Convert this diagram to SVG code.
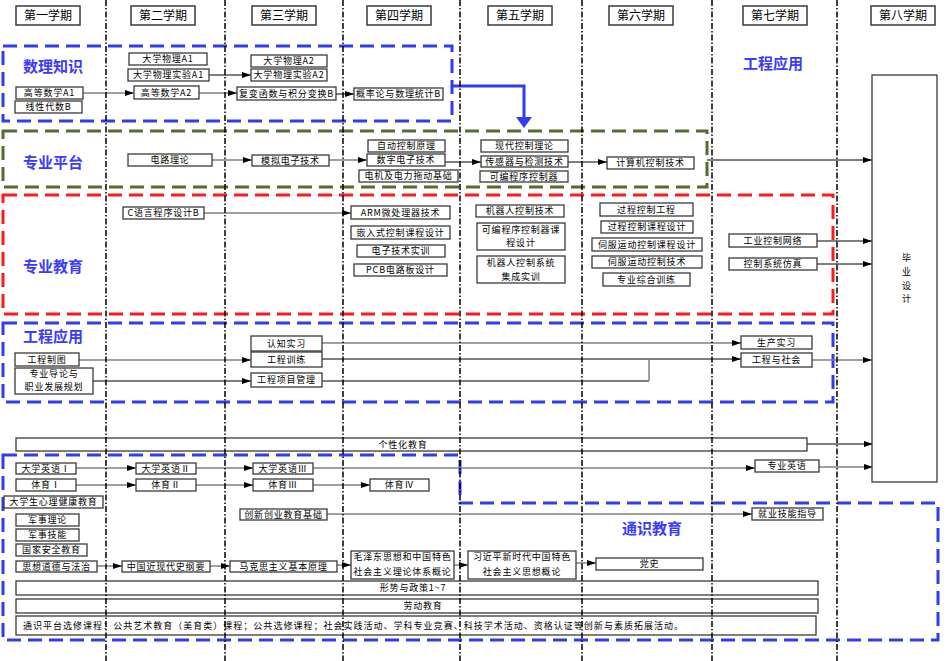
<svg xmlns="http://www.w3.org/2000/svg" width="952" height="661" viewBox="0 0 952 661">
<style>
text{font-family:"Noto Sans CJK SC","Liberation Sans",sans-serif;fill:#000}
.b{fill:#fff;stroke:#3a3a3a;stroke-width:1.3}
.h{fill:#fff;stroke:#3a3a3a;stroke-width:1.5}
.t{font-size:9px;letter-spacing:0.8px;text-anchor:middle}
.ht{font-size:12px;text-anchor:middle}
.lab{font-size:15px;font-weight:bold;fill:#3a3aff}
.reg{fill:none;stroke-width:3;stroke-dasharray:14 7}
.g{fill:none;stroke:#808080;stroke-width:1.5}
.k{fill:none;stroke:#000;stroke-width:1}
.a{marker-end:url(#ar)}
.grid{stroke:#000;stroke-width:1.5;stroke-dasharray:6 2 1.5 2}
</style>
<defs>
<marker id="ar" markerUnits="userSpaceOnUse" markerWidth="9" markerHeight="6" refX="9" refY="3" orient="auto">
<path d="M0,0 L9,3 L0,6 z" fill="#000"/>
</marker>
</defs>
<rect width="952" height="661" fill="#fff"/>

<g id="regions">
<rect class="reg" x="3" y="46" width="449" height="75" stroke="#2f3cf0"/>
<rect class="reg" x="3" y="131" width="704" height="56" stroke="#566b2f"/>
<rect class="reg" x="3" y="195" width="830" height="119" stroke="#ff1a1a"/>
<rect class="reg" x="3" y="323" width="830" height="79" stroke="#2f3cf0"/>
<path class="reg" d="M3,455 H460 V503 H938 V640 H3 Z" stroke="#2f3cf0"/>
</g>

<g id="labels">
<text class="lab" x="23" y="72">数理知识</text>
<text class="lab" x="23" y="168">专业平台</text>
<text class="lab" x="23" y="272">专业教育</text>
<text class="lab" x="23" y="342">工程应用</text>
<text class="lab" x="743" y="69">工程应用</text>
<text class="lab" x="622" y="534">通识教育</text>
</g>

<g id="headers">
<g id="h1"><rect class="h" x="16" y="6" width="64" height="19"/><text class="ht" x="48" y="20">第一学期</text></g>
<g id="h2"><rect class="h" x="131" y="6" width="64" height="19"/><text class="ht" x="163" y="20">第二学期</text></g>
<g id="h3"><rect class="h" x="252" y="6" width="64" height="19"/><text class="ht" x="284" y="20">第三学期</text></g>
<g id="h4"><rect class="h" x="367" y="6" width="64" height="19"/><text class="ht" x="399" y="20">第四学期</text></g>
<g id="h5"><rect class="h" x="488" y="6" width="64" height="19"/><text class="ht" x="520" y="20">第五学期</text></g>
<g id="h6"><rect class="h" x="609" y="6" width="64" height="19"/><text class="ht" x="641" y="20">第六学期</text></g>
<g id="h7"><rect class="h" x="743" y="6" width="64" height="19"/><text class="ht" x="775" y="20">第七学期</text></g>
<g id="h8"><rect class="h" x="871" y="6" width="64" height="19"/><text class="ht" x="903" y="20">第八学期</text></g>
</g>

<g id="connectors">
<path class="g a" d="M83,93 H134"/>
<path class="k a" d="M209,75 H251"/>
<path class="g a" d="M199,93 H237"/>
<path class="k a" d="M336,94 H354"/>
<path d="M452,86 H524 V118" fill="none" stroke="#2f3cf0" stroke-width="3"/>
<polygon points="516,117 532,117 524,128" fill="#2f3cf0"/>
<path class="g a" d="M212,160 H252"/>
<path class="g a" d="M329,160 H367"/>
<path class="k a" d="M445,162 H481"/>
<path class="k a" d="M568,162 H607"/>
<path class="k a" d="M707,160 H872"/>
<path class="g a" d="M204,213 H351"/>
<path class="k a" d="M817,241 H872"/>
<path class="k a" d="M817,264 H872"/>
<path class="g a" d="M79,360 H251"/>
<path class="k a" d="M93,381 H251"/>
<path class="g a" d="M322,343 H741"/>
<path class="k a" d="M322,359 H741"/>
<path class="k" d="M322,381 H649"/>
<path class="g" d="M649,381 V359"/>
<path class="g a" d="M812,360 H872"/>
<path class="k a" d="M807,444 H873"/>
<path class="g a" d="M76,468 H136"/>
<path class="g a" d="M196,468 H253"/>
<path class="g a" d="M313,468 H755"/>
<path class="g a" d="M819,467 H873"/>
<path class="g a" d="M76,485 H136"/>
<path class="g a" d="M196,485 H253"/>
<path class="g a" d="M313,485 H370"/>
<path class="g a" d="M327,514 H752"/>
<path class="g a" d="M97,566 H122"/>
<path class="g a" d="M210,566 H230"/>
<path class="g a" d="M337,565 H351"/>
<path class="g a" d="M454,565 H468"/>
<path class="g a" d="M576,563 H596"/>
</g>

<g id="nodes">
<g id="wl1"><rect class="b" x="129" y="53" width="78" height="12"/><text class="t" x="168" y="62.3">大学物理A1</text></g>
<g id="wlsy1"><rect class="b" x="128" y="69" width="81" height="12"/><text class="t" x="168.5" y="78.3">大学物理实验A1</text></g>
<g id="gs1"><rect class="b" x="16" y="87" width="67" height="12"/><text class="t" x="49.5" y="96.3">高等数学A1</text></g>
<g id="xx"><rect class="b" x="15" y="101" width="67" height="12"/><text class="t" x="48.5" y="110.3">线性代数B</text></g>
<g id="gs2"><rect class="b" x="134" y="86" width="65" height="13"/><text class="t" x="166.5" y="95.8">高等数学A2</text></g>
<g id="wl2"><rect class="b" x="251" y="55" width="76" height="12"/><text class="t" x="289" y="64.3">大学物理A2</text></g>
<g id="wlsy2"><rect class="b" x="251" y="69" width="76" height="12"/><text class="t" x="289" y="78.3">大学物理实验A2</text></g>
<g id="fb"><rect class="b" x="237" y="87" width="99" height="13"/><text class="t" x="286.5" y="96.8">复变函数与积分变换B</text></g>
<g id="gl"><rect class="b" x="354" y="88" width="89" height="12"/><text class="t" x="398.5" y="97.3">概率论与数理统计B</text></g>

<g id="dl"><rect class="b" x="128" y="154" width="84" height="12"/><text class="t" x="170" y="163.3">电路理论</text></g>
<g id="mn"><rect class="b" x="252" y="155" width="77" height="11"/><text class="t" x="290.5" y="163.8">模拟电子技术</text></g>
<g id="zk"><rect class="b" x="368" y="140" width="77" height="12"/><text class="t" x="406.5" y="149.3">自动控制原理</text></g>
<g id="sz"><rect class="b" x="367" y="154" width="78" height="12"/><text class="t" x="406" y="163.3">数字电子技术</text></g>
<g id="dj"><rect class="b" x="359" y="170" width="99" height="12"/><text class="t" x="408.5" y="179.3">电机及电力拖动基础</text></g>
<g id="xd"><rect class="b" x="481" y="140" width="87" height="12"/><text class="t" x="524.5" y="149.3">现代控制理论</text></g>
<g id="cg"><rect class="b" x="481" y="156" width="87" height="11"/><text class="t" x="524.5" y="164.8">传感器与检测技术</text></g>
<g id="plc"><rect class="b" x="480" y="171" width="88" height="11"/><text class="t" x="524" y="179.8">可编程序控制器</text></g>
<g id="jsj"><rect class="b" x="607" y="157" width="87" height="12"/><text class="t" x="650.5" y="166.3">计算机控制技术</text></g>

<g id="bysj"><rect class="b" x="872" y="75" width="65" height="407"/>
<text class="t" x="907" y="261">毕</text><text class="t" x="907" y="275">业</text><text class="t" x="907" y="289">设</text><text class="t" x="907" y="302">计</text></g>

<g id="c"><rect class="b" x="123" y="207" width="81" height="12"/><text class="t" x="163.5" y="216.3">C语言程序设计B</text></g>
<g id="arm"><rect class="b" x="351" y="206" width="99" height="13"/><text class="t" x="400.5" y="215.8">ARM微处理器技术</text></g>
<g id="qrs"><rect class="b" x="351" y="226" width="99" height="13"/><text class="t" x="400.5" y="235.8">嵌入式控制课程设计</text></g>
<g id="dzsx"><rect class="b" x="357" y="245" width="88" height="12"/><text class="t" x="401" y="254.3">电子技术实训</text></g>
<g id="pcb"><rect class="b" x="354" y="264" width="93" height="12"/><text class="t" x="400.5" y="273.3">PCB电路板设计</text></g>
<g id="jqr"><rect class="b" x="476" y="205" width="88" height="12"/><text class="t" x="520" y="214.3">机器人控制技术</text></g>
<g id="plckc"><rect class="b" x="477" y="223" width="88" height="27"/><text class="t" x="521" y="233.3">可编程序控制器课</text><text class="t" x="521" y="246.3">程设计</text></g>
<g id="jqrjc"><rect class="b" x="477" y="256" width="88" height="27"/><text class="t" x="521" y="266.3">机器人控制系统</text><text class="t" x="521" y="280.3">集成实训</text></g>
<g id="gckz"><rect class="b" x="600" y="203" width="93" height="13"/><text class="t" x="646.5" y="212.8">过程控制工程</text></g>
<g id="gckc"><rect class="b" x="601" y="221" width="92" height="12"/><text class="t" x="647" y="230.3">过程控制课程设计</text></g>
<g id="sfkc"><rect class="b" x="592" y="238" width="110" height="13"/><text class="t" x="647" y="247.8">伺服运动控制课程设计</text></g>
<g id="sfjs"><rect class="b" x="592" y="256" width="110" height="12"/><text class="t" x="647" y="265.3">伺服运动控制技术</text></g>
<g id="zyzh"><rect class="b" x="603" y="273" width="87" height="13"/><text class="t" x="646.5" y="282.8">专业综合训练</text></g>
<g id="gykz"><rect class="b" x="729" y="234" width="88" height="13"/><text class="t" x="773" y="243.8">工业控制网络</text></g>
<g id="kzfz"><rect class="b" x="729" y="258" width="88" height="12"/><text class="t" x="773" y="267.3">控制系统仿真</text></g>

<g id="gczt"><rect class="b" x="15" y="353" width="64" height="13"/><text class="t" x="47" y="362.8">工程制图</text></g>
<g id="zydl"><rect class="b" x="15" y="368" width="78" height="26"/><text class="t" x="54" y="377.3">专业导论与</text><text class="t" x="54" y="390.3">职业发展规划</text></g>
<g id="rzsx"><rect class="b" x="251" y="336" width="71" height="15"/><text class="t" x="286.5" y="346.8">认知实习</text></g>
<g id="gcxl"><rect class="b" x="251" y="352" width="71" height="15"/><text class="t" x="286.5" y="362.8">工程训练</text></g>
<g id="xmgl"><rect class="b" x="251" y="373" width="71" height="14"/><text class="t" x="286.5" y="383.3">工程项目管理</text></g>
<g id="scsx"><rect class="b" x="741" y="336" width="71" height="13"/><text class="t" x="776.5" y="345.8">生产实习</text></g>
<g id="gcsh"><rect class="b" x="741" y="353" width="71" height="14"/><text class="t" x="776.5" y="363.3">工程与社会</text></g>

<g id="gxh"><rect class="b" x="16" y="438" width="791" height="13"/><text class="t" x="403" y="447.8">个性化教育</text></g>

<g id="yy1"><rect class="b" x="16" y="463" width="60" height="11"/><text class="t" x="46" y="471.8">大学英语Ⅰ</text></g>
<g id="yy2"><rect class="b" x="136" y="463" width="60" height="11"/><text class="t" x="166" y="471.8">大学英语Ⅱ</text></g>
<g id="yy3"><rect class="b" x="253" y="463" width="60" height="11"/><text class="t" x="283" y="471.8">大学英语Ⅲ</text></g>
<g id="ty1"><rect class="b" x="16" y="479" width="60" height="12"/><text class="t" x="46" y="488.3">体育Ⅰ</text></g>
<g id="ty2"><rect class="b" x="136" y="479" width="60" height="12"/><text class="t" x="166" y="488.3">体育Ⅱ</text></g>
<g id="ty3"><rect class="b" x="253" y="479" width="60" height="12"/><text class="t" x="283" y="488.3">体育Ⅲ</text></g>
<g id="ty4"><rect class="b" x="370" y="479" width="59" height="12"/><text class="t" x="399.5" y="488.3">体育Ⅳ</text></g>
<g id="xl"><rect class="b" x="4" y="496" width="99" height="12"/><text class="t" x="53.5" y="505.3">大学生心理健康教育</text></g>
<g id="jsll"><rect class="b" x="16" y="514" width="63" height="12"/><text class="t" x="47.5" y="523.3">军事理论</text></g>
<g id="jsjn"><rect class="b" x="16" y="529" width="63" height="12"/><text class="t" x="47.5" y="538.3">军事技能</text></g>
<g id="gjaq"><rect class="b" x="16" y="544" width="71" height="12"/><text class="t" x="51.5" y="553.3">国家安全教育</text></g>
<g id="sxdd"><rect class="b" x="16" y="561" width="81" height="11"/><text class="t" x="56.5" y="569.8">思想道德与法治</text></g>
<g id="zgjx"><rect class="b" x="122" y="561" width="88" height="11"/><text class="t" x="166" y="569.8">中国近现代史纲要</text></g>
<g id="mks"><rect class="b" x="230" y="561" width="107" height="11"/><text class="t" x="283.5" y="569.8">马克思主义基本原理</text></g>
<g id="mzd"><rect class="b" x="351" y="551" width="103" height="28"/><text class="t" x="402.5" y="560.3">毛泽东思想和中国特色</text><text class="t" x="402.5" y="575.3">社会主义理论体系概论</text></g>
<g id="xjp"><rect class="b" x="468" y="551" width="108" height="28"/><text class="t" x="522" y="560.3">习近平新时代中国特色</text><text class="t" x="522" y="575.3">社会主义思想概论</text></g>
<g id="ds"><rect class="b" x="596" y="558" width="107" height="12"/><text class="t" x="649.5" y="567.3">党史</text></g>
<g id="cxcy"><rect class="b" x="240" y="509" width="87" height="11"/><text class="t" x="283.5" y="517.8">创新创业教育基础</text></g>
<g id="zyyy"><rect class="b" x="755" y="460" width="64" height="12"/><text class="t" x="787" y="469.3">专业英语</text></g>
<g id="jyjn"><rect class="b" x="752" y="508" width="71" height="12"/><text class="t" x="787.5" y="517.3">就业技能指导</text></g>
<g id="xszc"><rect class="b" x="16" y="581" width="802" height="14"/><text class="t" x="413" y="591.3">形势与政策1~7</text></g>
<g id="ldjy"><rect class="b" x="16" y="599" width="802" height="14"/><text class="t" x="423" y="609.3">劳动教育</text></g>
<g id="tspt"><rect class="b" x="16" y="616" width="800" height="19"/><text x="23" y="628.8" font-size="9" textLength="660" lengthAdjust="spacing">通识平台选修课程：公共艺术教育（美育类）课程；公共选修课程；社会实践活动、学科专业竞赛、科技学术活动、资格认证等创新与素质拓展活动。</text></g>
</g>

<g id="grid">
<line class="grid" x1="106" y1="0" x2="106" y2="661"/>
<line class="grid" x1="225" y1="0" x2="225" y2="661"/>
<line class="grid" x1="343" y1="0" x2="343" y2="661"/>
<line class="grid" x1="460" y1="0" x2="460" y2="661"/>
<line class="grid" x1="582" y1="0" x2="582" y2="661"/>
<line class="grid" x1="712" y1="0" x2="712" y2="661"/>
<line class="grid" x1="837" y1="0" x2="837" y2="661"/>
</g>
</svg>
